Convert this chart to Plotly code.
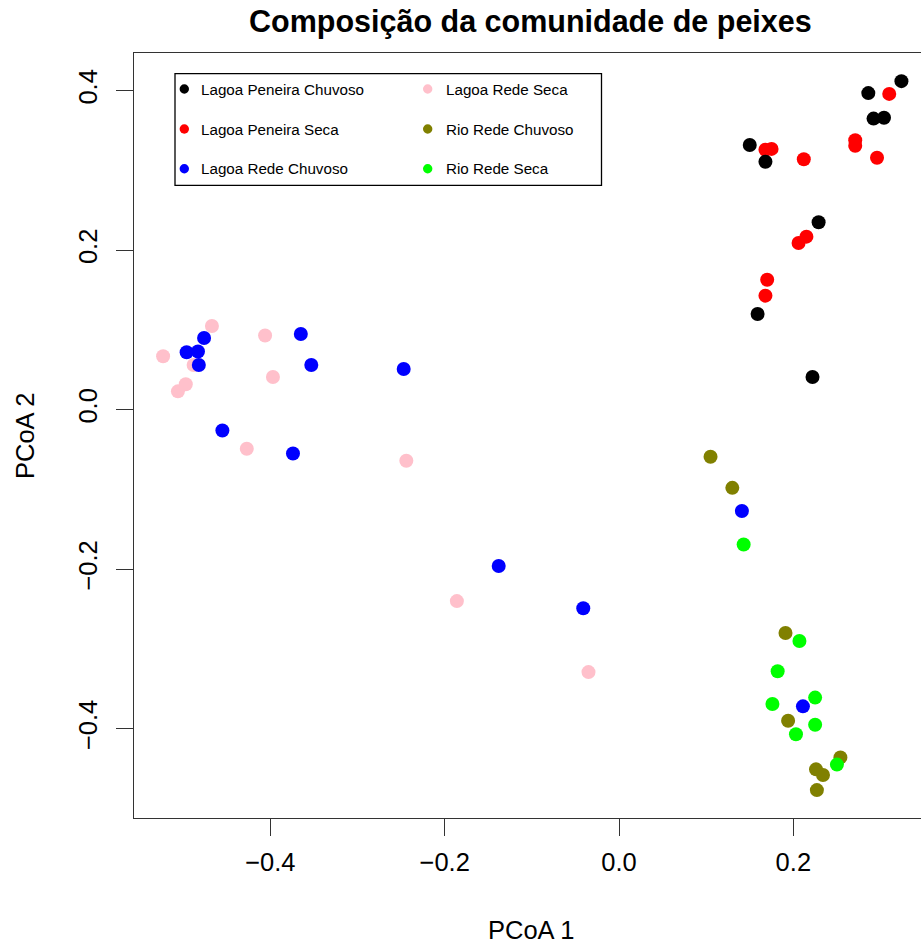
import plotly.graph_objects as go

# PCoA scores per group (axis 1, axis 2)
groups = ["Lagoa Peneira Chuvoso", "Lagoa Peneira Seca", "Lagoa Rede Chuvoso",
          "Lagoa Rede Seca", "Rio Rede Chuvoso", "Rio Rede Seca"]
colors = ["#000000", "#FF0000", "#0000FF", "#FFC0CB", "#808000", "#00FF00"]

lpc_x = [0.324, 0.286, 0.292, 0.304, 0.150, 0.168, 0.229, 0.159, 0.222]
lpc_y = [0.412, 0.397, 0.365, 0.366, 0.332, 0.311, 0.235, 0.120, 0.041]

lps_x = [0.310, 0.168, 0.175, 0.212, 0.271, 0.271, 0.296, 0.215, 0.206, 0.170, 0.168]
lps_y = [0.396, 0.326, 0.327, 0.314, 0.338, 0.331, 0.316, 0.217, 0.209, 0.163, 0.143]

lrc_x = [-0.476, -0.496, -0.483, -0.482, -0.365, -0.353, -0.247, -0.455, -0.374,
         -0.138, -0.041, 0.141, 0.211]
lrc_y = [0.090, 0.072, 0.073, 0.056, 0.095, 0.056, 0.051, -0.026, -0.055,
         -0.196, -0.249, -0.127, -0.372]

lrs_x = [-0.467, -0.523, -0.406, -0.397, -0.497, -0.506, -0.488, -0.427, -0.244,
         -0.186, -0.035]
lrs_y = [0.105, 0.067, 0.093, 0.041, 0.032, 0.023, 0.056, -0.049, -0.064,
         -0.240, -0.329]

rrc_x = [0.105, 0.130, 0.191, 0.194, 0.254, 0.226, 0.234, 0.227]
rrc_y = [-0.059, -0.098, -0.280, -0.390, -0.436, -0.451, -0.458, -0.477]

rrs_x = [0.143, 0.207, 0.182, 0.225, 0.176, 0.225, 0.203, 0.250]
rrs_y = [-0.169, -0.290, -0.328, -0.361, -0.369, -0.395, -0.407, -0.445]

xs = [lpc_x, lps_x, lrc_x, lrs_x, rrc_x, rrs_x]
ys = [lpc_y, lps_y, lrc_y, lrs_y, rrc_y, rrs_y]

tick_vals = [-0.4, -0.2, 0.0, 0.2, 0.4]
tick_text = ["\u22120.4", "\u22120.2", "0.0", "0.2", "0.4"]

W, H = 921, 947
L, T, B = 134, 53, 129
PW, PH = W - L, H - T - B

FONT = "Liberation Sans, Arial, sans-serif"

fig = go.Figure()

# drawing order: red, black, pink, blue, olive, green
for i in [1, 0, 3, 2, 4, 5]:
    fig.add_trace(go.Scatter(
        x=xs[i], y=ys[i], mode="markers", name=groups[i], showlegend=False,
        marker=dict(color=colors[i], size=14, line=dict(width=0)),
    ))


def px_x(p):
    return (p - L) / PW


def px_y(p):
    return (H - B - p) / PH


shapes = []
annotations = []

# legend box, two columns of three entries
shapes.append(dict(type="rect", xref="paper", yref="paper",
                   x0=px_x(175), x1=px_x(601.5), y0=px_y(185.3), y1=px_y(73.7),
                   line=dict(color="black", width=1.3), fillcolor="white", layer="above"))
col_sym = [184.3, 427.7]
col_txt = [199.3, 443.7]
row_y = [89, 129, 168.7]
r = 4.7
for k, (name, col) in enumerate(zip(groups, colors)):
    c, rw = divmod(k, 3)
    cx, cy = col_sym[c], row_y[rw]
    shapes.append(dict(type="circle", xref="paper", yref="paper",
                       x0=px_x(cx - r), x1=px_x(cx + r), y0=px_y(cy + r), y1=px_y(cy - r),
                       fillcolor=col, line=dict(width=0), layer="above"))
    annotations.append(dict(text=name, xref="paper", yref="paper",
                            x=px_x(col_txt[c]), y=px_y(cy), xanchor="left", yanchor="middle",
                            showarrow=False, font=dict(family=FONT, size=15.2, color="black")))

# title and axis titles
annotations.append(dict(text="<b>Composição da comunidade de peixes</b>", xref="paper", yref="paper",
                        x=px_x(530.5), y=px_y(22), xanchor="center", yanchor="middle",
                        showarrow=False, font=dict(family=FONT, size=30.5, color="black")))
annotations.append(dict(text="PCoA 1", xref="paper", yref="paper",
                        x=px_x(530.5), y=px_y(930), xanchor="center", yanchor="middle",
                        showarrow=False, font=dict(family=FONT, size=25.5, color="black")))
annotations.append(dict(text="PCoA 2", xref="paper", yref="paper",
                        x=px_x(25), y=px_y(436), xanchor="center", yanchor="middle", textangle=-90,
                        showarrow=False, font=dict(family=FONT, size=25.5, color="black")))

x0_px, x_scale = 619.0, 871.7
y0_px, y_scale = 409.7, 797.5
x_range = [(L - x0_px) / x_scale, (W - x0_px) / x_scale]
y_range = [(y0_px - (H - B)) / y_scale, (y0_px - T) / y_scale]

fig.update_layout(
    width=W, height=H,
    margin=dict(l=L, r=0, t=T, b=B, pad=0),
    plot_bgcolor="white", paper_bgcolor="white",
    shapes=shapes, annotations=annotations,
    font=dict(family=FONT, color="black"),
    xaxis=dict(range=x_range, tickmode="array", tickvals=tick_vals[:4], ticktext=tick_text[:4],
               showgrid=False, zeroline=False, showline=True, mirror=True,
               linecolor="#333333", linewidth=1.3, ticks="outside", ticklen=17,
               tickcolor="#333333", tickwidth=1.3, ticklabelstandoff=4,
               tickfont=dict(size=25.5, color="black")),
    yaxis=dict(range=y_range, tickmode="array", tickvals=tick_vals, ticktext=tick_text,
               showgrid=False, zeroline=False, showline=True, mirror=False,
               linecolor="#333333", linewidth=1.3, ticks="outside", ticklen=17,
               tickcolor="#333333", tickwidth=1.3, tickangle=-90, ticklabelstandoff=9,
               tickfont=dict(size=25.5, color="black")),
)

fig.write_html("out.html")
